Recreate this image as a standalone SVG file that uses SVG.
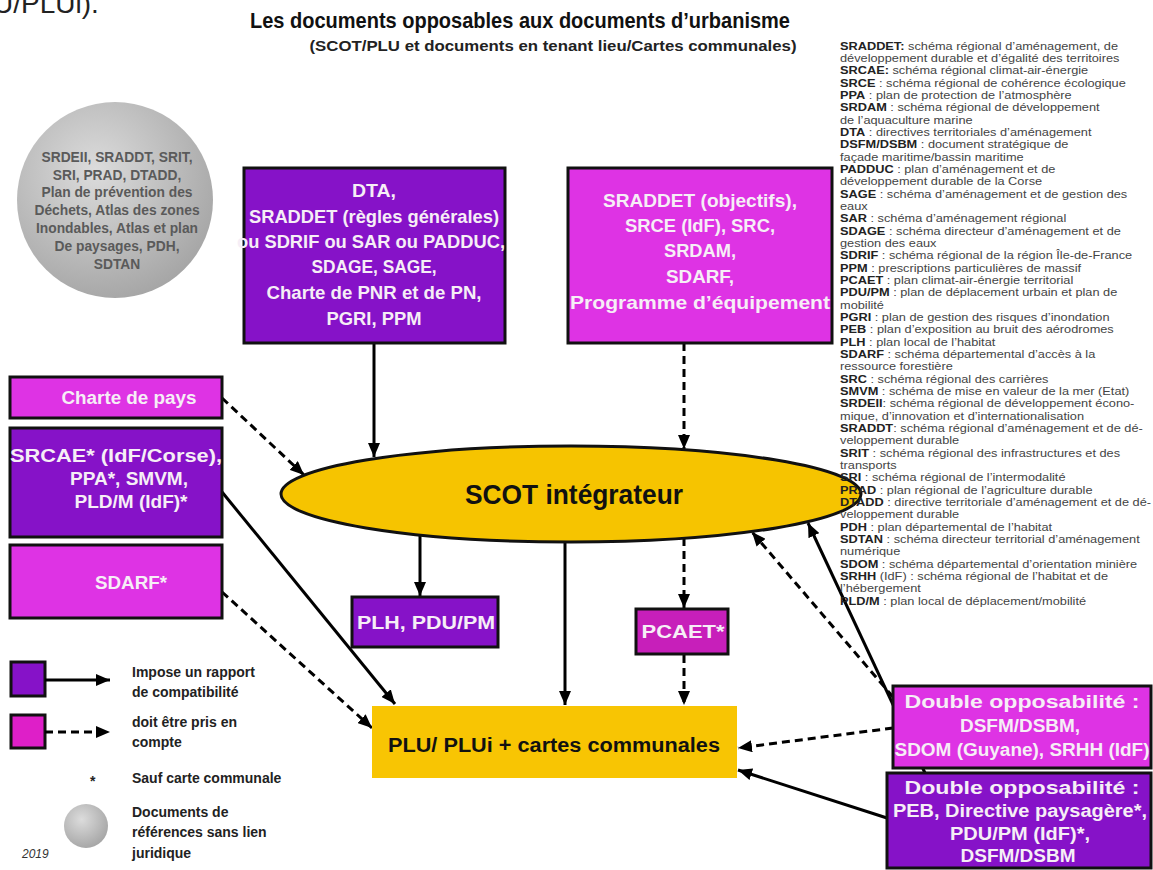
<svg xmlns="http://www.w3.org/2000/svg" width="1153" height="870" viewBox="0 0 1153 870">
<style>
  .box-p { fill: #8612C8; stroke: #111; stroke-width: 3; }
  .box-m { fill: #DE33E4; stroke: #111; stroke-width: 3; }
  .box-c { fill: #C71FBA; stroke: #111; stroke-width: 3; }
  .bt { font-family: "Liberation Sans", Arial, sans-serif; font-weight: bold; fill: #F6EEF6; text-anchor: middle; }
  .ct { font-family: "Liberation Sans", Arial, sans-serif; font-weight: bold; fill: #5a5a5a; text-anchor: middle; font-size: 13.8px; }
  .solid { stroke: #000; stroke-width: 3; fill: none; marker-end: url(#arr); }
  .dash { stroke: #000; stroke-width: 3; fill: none; stroke-dasharray: 8 5; marker-end: url(#arr); }
  .gl { font-family: "Liberation Sans", Arial, sans-serif; font-size: 11.2px; fill: #444; }
  .gl tspan.b { font-weight: bold; fill: #222; }
  .lg { font-family: "Liberation Sans", Arial, sans-serif; font-weight: bold; font-size: 14px; fill: #222; }
</style>
<defs>
  <marker id="arr" markerUnits="userSpaceOnUse" markerWidth="14" markerHeight="12" refX="14" refY="6" orient="auto">
    <path d="M0,0 L14,6 L0,12 z" fill="#000"/>
  </marker>
  <radialGradient id="gray" cx="0.4" cy="0.35" r="0.7">
    <stop offset="0" stop-color="#dcdcdc"/>
    <stop offset="1" stop-color="#a4a4a4"/>
  </radialGradient>
</defs>
<rect width="1153" height="870" fill="#fff"/>

<text x="-7" y="13" font-family="Liberation Sans, Arial, sans-serif" font-size="28" fill="#222">U/PLUi).</text>

<g id="title">
  <text x="520" y="28" font-family="Liberation Sans, Arial, sans-serif" font-weight="bold" font-size="22" fill="#111" text-anchor="middle" textLength="540" lengthAdjust="spacingAndGlyphs">Les documents opposables aux documents d’urbanisme</text>
  <text x="553" y="51" font-family="Liberation Sans, Arial, sans-serif" font-weight="bold" font-size="14" fill="#222" text-anchor="middle" textLength="487" lengthAdjust="spacingAndGlyphs">(SCOT/PLU et documents en tenant lieu/Cartes communales)</text>
</g>

<g id="connectors">
  <line class="solid" x1="374" y1="343" x2="374" y2="457"/>
  <line class="dash" x1="684" y1="343" x2="684" y2="449"/>
  <line class="dash" x1="222" y1="398" x2="304" y2="475"/>
  <line class="solid" x1="222" y1="492" x2="395" y2="704"/>
  <line class="dash" x1="222" y1="592" x2="372" y2="728"/>
  <line class="solid" x1="420" y1="536" x2="420" y2="596"/>
  <line class="solid" x1="565" y1="542" x2="565" y2="705"/>
  <line class="dash" x1="684" y1="538" x2="684" y2="608"/>
  <line class="dash" x1="684" y1="655" x2="684" y2="705"/>
  <line class="dash" x1="893" y1="697" x2="752" y2="532"/>
  <line class="dash" x1="893" y1="728" x2="738" y2="748"/>
  <line class="solid" x1="925" y1="773" x2="808" y2="523"/>
  <line class="solid" x1="887" y1="818" x2="738" y2="770"/>
</g>

<g id="node-ref-circle">
  <circle cx="115" cy="200" r="98" fill="url(#gray)"/>
  <text class="ct" x="117" y="162">SRDEII, SRADDT, SRIT,</text>
  <text class="ct" x="117" y="180">SRI, PRAD, DTADD,</text>
  <text class="ct" x="117" y="197">Plan de prévention des</text>
  <text class="ct" x="117" y="215">Déchets, Atlas des zones</text>
  <text class="ct" x="117" y="233">Inondables, Atlas et plan</text>
  <text class="ct" x="117" y="251">De paysages, PDH,</text>
  <text class="ct" x="117" y="269">SDTAN</text>
</g>

<g id="node-dta">
  <rect class="box-p" x="244" y="168" width="261" height="175"/>
  <text class="bt" x="374" y="197" font-size="18.5" textLength="44" lengthAdjust="spacingAndGlyphs">DTA,</text>
  <text class="bt" x="374" y="223" font-size="18.5" textLength="250" lengthAdjust="spacingAndGlyphs">SRADDET (règles générales)</text>
  <text class="bt" x="371" y="248" font-size="18.5" textLength="268" lengthAdjust="spacingAndGlyphs">ou SDRIF ou SAR ou PADDUC,</text>
  <text class="bt" x="374" y="273" font-size="18.5" textLength="125" lengthAdjust="spacingAndGlyphs">SDAGE, SAGE,</text>
  <text class="bt" x="374" y="299" font-size="18.5" textLength="215" lengthAdjust="spacingAndGlyphs">Charte de PNR et de PN,</text>
  <text class="bt" x="374" y="325" font-size="18.5" textLength="95" lengthAdjust="spacingAndGlyphs">PGRI, PPM</text>
</g>

<g id="node-sraddet">
  <rect class="box-m" x="568" y="168" width="264" height="175"/>
  <text class="bt" x="700" y="207" font-size="19" textLength="194" lengthAdjust="spacingAndGlyphs">SRADDET (objectifs),</text>
  <text class="bt" x="700" y="232" font-size="19" textLength="150" lengthAdjust="spacingAndGlyphs">SRCE (IdF), SRC,</text>
  <text class="bt" x="700" y="257" font-size="19" textLength="72" lengthAdjust="spacingAndGlyphs">SRDAM,</text>
  <text class="bt" x="700" y="283" font-size="19" textLength="68" lengthAdjust="spacingAndGlyphs">SDARF,</text>
  <text class="bt" x="700" y="309" font-size="19" textLength="260" lengthAdjust="spacingAndGlyphs">Programme d’équipement</text>
</g>

<g id="node-charte">
  <rect class="box-m" x="10" y="377" width="212" height="41"/>
  <text class="bt" x="129" y="404" font-size="18" textLength="135" lengthAdjust="spacingAndGlyphs">Charte de pays</text>
</g>

<g id="node-srcae">
  <rect class="box-p" x="10" y="428" width="212" height="109"/>
  <text class="bt" x="116" y="462" font-size="18" textLength="212" lengthAdjust="spacingAndGlyphs">SRCAE* (IdF/Corse),</text>
  <text class="bt" x="129" y="485" font-size="18" textLength="118" lengthAdjust="spacingAndGlyphs">PPA*, SMVM,</text>
  <text class="bt" x="131" y="508" font-size="18" textLength="113" lengthAdjust="spacingAndGlyphs">PLD/M (IdF)*</text>
</g>

<g id="node-sdarf">
  <rect class="box-m" x="10" y="545" width="212" height="73"/>
  <text class="bt" x="131" y="589" font-size="18" textLength="72" lengthAdjust="spacingAndGlyphs">SDARF*</text>
</g>

<g id="node-scot">
  <ellipse cx="571" cy="494" rx="290" ry="48" fill="#F6C400" stroke="#111" stroke-width="3"/>
  <text x="574" y="504" font-family="Liberation Sans, Arial, sans-serif" font-weight="bold" font-size="28" fill="#111" text-anchor="middle" textLength="218" lengthAdjust="spacingAndGlyphs">SCOT intégrateur</text>
</g>

<g id="node-plh">
  <rect class="box-p" x="352" y="597" width="146" height="50"/>
  <text class="bt" x="426" y="629" font-size="19" textLength="138" lengthAdjust="spacingAndGlyphs">PLH, PDU/PM</text>
</g>

<g id="node-pcaet">
  <rect class="box-c" x="636" y="609" width="92" height="45"/>
  <text class="bt" x="683" y="638" font-size="18" textLength="83" lengthAdjust="spacingAndGlyphs">PCAET*</text>
</g>

<g id="node-plu">
  <rect x="372" y="706" width="365" height="72" fill="#F8C503"/>
  <text x="554" y="752" font-family="Liberation Sans, Arial, sans-serif" font-weight="bold" font-size="20" fill="#111" text-anchor="middle" textLength="332" lengthAdjust="spacingAndGlyphs">PLU/ PLUi + cartes communales</text>
</g>

<g id="node-double1">
  <rect class="box-m" x="893" y="686" width="258" height="82"/>
  <text class="bt" x="1022" y="708" font-size="18" textLength="235" lengthAdjust="spacingAndGlyphs">Double opposabilité  :</text>
  <text class="bt" x="1020" y="732" font-size="18" textLength="120" lengthAdjust="spacingAndGlyphs">DSFM/DSBM,</text>
  <text class="bt" x="1022" y="756" font-size="18" textLength="255" lengthAdjust="spacingAndGlyphs">SDOM (Guyane), SRHH (IdF)</text>
</g>

<g id="node-double2">
  <rect class="box-p" x="887" y="773" width="264" height="95"/>
  <text class="bt" x="1022" y="794" font-size="18" textLength="235" lengthAdjust="spacingAndGlyphs">Double opposabilité  :</text>
  <text class="bt" x="1020" y="817" font-size="18" textLength="254" lengthAdjust="spacingAndGlyphs">PEB, Directive paysagère*,</text>
  <text class="bt" x="1020" y="840" font-size="18" textLength="140" lengthAdjust="spacingAndGlyphs">PDU/PM (IdF)*,</text>
  <text class="bt" x="1018" y="862" font-size="18" textLength="115" lengthAdjust="spacingAndGlyphs">DSFM/DSBM</text>
</g>

<g id="legend">
  <rect x="11" y="662" width="34" height="34" fill="#8612C8" stroke="#111" stroke-width="3"/>
  <line class="solid" x1="45" y1="680" x2="110" y2="680"/>
  <text class="lg" x="132" y="677">Impose un rapport</text>
  <text class="lg" x="132" y="697">de compatibilité</text>
  <rect x="11" y="715" width="34" height="33" fill="#DE1FC8" stroke="#111" stroke-width="3"/>
  <line class="dash" x1="45" y1="732" x2="110" y2="732"/>
  <text class="lg" x="132" y="727">doit être pris en</text>
  <text class="lg" x="132" y="747">compte</text>
  <text class="lg" x="90" y="786" font-size="16">*</text>
  <text class="lg" x="132" y="783">Sauf carte communale</text>
  <circle cx="86" cy="826" r="22" fill="url(#gray)"/>
  <text class="lg" x="132" y="817">Documents de</text>
  <text class="lg" x="132" y="837">références sans lien</text>
  <text class="lg" x="132" y="858">juridique</text>
  <text x="22" y="858" font-family="Liberation Sans, Arial, sans-serif" font-style="italic" font-size="12" fill="#333">2019</text>
</g>

<g id="glossary" class="gl" transform="translate(840 0) scale(1.14 1)">
  <text x="0" y="50"><tspan class="b">SRADDET:</tspan> schéma régional d’aménagement, de</text>
  <text x="0" y="62">développement durable et d’égalité des territoires</text>
  <text x="0" y="74"><tspan class="b">SRCAE:</tspan> schéma régional climat-air-énergie</text>
  <text x="0" y="87"><tspan class="b">SRCE</tspan> : schéma régional de cohérence écologique</text>
  <text x="0" y="99"><tspan class="b">PPA</tspan> : plan de protection de l’atmosphère</text>
  <text x="0" y="111"><tspan class="b">SRDAM</tspan> : schéma régional de développement</text>
  <text x="0" y="124">de l’aquaculture marine</text>
  <text x="0" y="136"><tspan class="b">DTA</tspan> : directives territoriales d’aménagement</text>
  <text x="0" y="148"><tspan class="b">DSFM/DSBM</tspan> : document stratégique de</text>
  <text x="0" y="161">façade maritime/bassin maritime</text>
  <text x="0" y="173"><tspan class="b">PADDUC</tspan> : plan d’aménagement et de</text>
  <text x="0" y="185">développement durable de la Corse</text>
  <text x="0" y="198"><tspan class="b">SAGE</tspan> : schéma d’aménagement et de gestion des</text>
  <text x="0" y="210">eaux</text>
  <text x="0" y="222"><tspan class="b">SAR</tspan> : schéma d’aménagement régional</text>
  <text x="0" y="235"><tspan class="b">SDAGE</tspan> : schéma directeur d’aménagement et de</text>
  <text x="0" y="247">gestion des eaux</text>
  <text x="0" y="259"><tspan class="b">SDRIF</tspan> : schéma régional de la région Île-de-France</text>
  <text x="0" y="272"><tspan class="b">PPM</tspan> : prescriptions particulières de massif</text>
  <text x="0" y="284"><tspan class="b">PCAET</tspan> : plan climat-air-énergie territorial</text>
  <text x="0" y="296"><tspan class="b">PDU/PM</tspan> : plan de déplacement urbain et plan de</text>
  <text x="0" y="309">mobilité</text>
  <text x="0" y="321"><tspan class="b">PGRI</tspan> : plan de gestion des risques d’inondation</text>
  <text x="0" y="333"><tspan class="b">PEB</tspan> : plan d’exposition au bruit des aérodromes</text>
  <text x="0" y="346"><tspan class="b">PLH</tspan> : plan local de l’habitat</text>
  <text x="0" y="358"><tspan class="b">SDARF</tspan> : schéma départemental d’accès à la</text>
  <text x="0" y="370">ressource forestière</text>
  <text x="0" y="383"><tspan class="b">SRC</tspan> : schéma régional des carrières</text>
  <text x="0" y="395"><tspan class="b">SMVM</tspan> : schéma de mise en valeur de la mer (Etat)</text>
  <text x="0" y="407"><tspan class="b">SRDEII</tspan>: schéma régional de développement écono-</text>
  <text x="0" y="420">mique, d’innovation et d’internationalisation</text>
  <text x="0" y="432"><tspan class="b">SRADDT</tspan>: schéma régional d’aménagement et de dé-</text>
  <text x="0" y="444">veloppement durable</text>
  <text x="0" y="457"><tspan class="b">SRIT</tspan> : schéma régional des infrastructures et des</text>
  <text x="0" y="469">transports</text>
  <text x="0" y="481"><tspan class="b">SRI</tspan> : schéma régional de l’intermodalité</text>
  <text x="0" y="494"><tspan class="b">PRAD</tspan> : plan régional de l’agriculture durable</text>
  <text x="0" y="506"><tspan class="b">DTADD</tspan> : directive territoriale d’aménagement et de dé-</text>
  <text x="0" y="518">veloppement durable</text>
  <text x="0" y="531"><tspan class="b">PDH</tspan> : plan départemental de l’habitat</text>
  <text x="0" y="543"><tspan class="b">SDTAN</tspan> : schéma directeur territorial d’aménagement</text>
  <text x="0" y="555">numérique</text>
  <text x="0" y="568"><tspan class="b">SDOM</tspan> : schéma départemental d’orientation minière</text>
  <text x="0" y="580"><tspan class="b">SRHH</tspan> (IdF) : schéma régional de l’habitat et de</text>
  <text x="0" y="592">l’hébergement</text>
  <text x="0" y="605"><tspan class="b">PLD/M</tspan> : plan local de déplacement/mobilité</text>
</g>
</svg>
